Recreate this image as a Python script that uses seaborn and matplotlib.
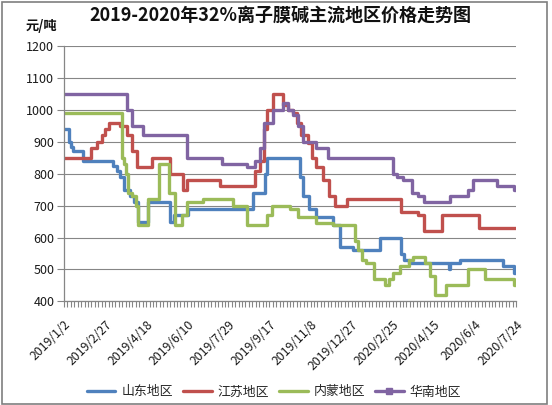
import numpy as np
import pandas as pd
import seaborn as sns
import matplotlib
matplotlib.use("Agg")
import matplotlib.pyplot as plt
import matplotlib.transforms as mtransforms
from matplotlib.lines import Line2D
from matplotlib.patches import Rectangle
from matplotlib.ticker import MultipleLocator

# ---------------- data ----------------
title = "2019-2020年32%离子膜碱主流地区价格走势图"
unit = "元/吨"
date_labels = ["2019/1/2", "2019/2/27", "2019/4/18", "2019/6/10", "2019/7/29",
               "2019/9/17", "2019/11/8", "2019/12/27", "2020/2/25", "2020/4/15",
               "2020/6/4", "2020/7/24"]
label_step = 36          # categories between labelled dates
n_last = 396             # index of the last category
regions = ["山东地区", "江苏地区", "内蒙地区", "华南地区"]
colors = ["#4F81BD", "#C0504D", "#9BBB59", "#8064A2"]

# change points (category index, price) for each region
sd_idx = [0, 4, 6, 8, 17, 43, 46, 49, 53, 58, 61, 65, 74, 93, 96, 109, 166, 176, 178,
          207, 209, 215, 221, 236, 242, 253, 277, 295, 298, 302, 337, 338, 347, 385, 394, 396]
sd_val = [940, 900, 885, 870, 840, 825, 810, 790, 750, 730, 710, 650, 710, 650, 670, 690, 740, 800, 850,
          790, 730, 690, 665, 640, 570, 560, 600, 550, 530, 520, 500, 520, 530, 510, 490, 490]

js_idx = [0, 24, 29, 33, 36, 39, 49, 55, 60, 64, 77, 93, 104, 108, 137, 167, 172, 175, 178, 183,
          192, 196, 201, 204, 208, 214, 217, 221, 227, 232, 237, 248, 295, 310, 315, 331, 364, 396]
js_val = [850, 880, 900, 920, 940, 960, 950, 920, 870, 820, 850, 800, 750, 780, 760, 810, 840, 940, 1000, 1050,
          1015, 1000, 990, 960, 920, 895, 850, 820, 780, 730, 700, 720, 680, 670, 620, 670, 630, 630]

nm_idx = [0, 51, 53, 54, 56, 60, 63, 65, 74, 83, 92, 97, 103, 108, 122, 148, 160, 178, 182, 198,
          205, 221, 236, 255, 258, 261, 265, 272, 281, 285, 288, 294, 302, 306, 316, 321, 325, 335,
          354, 369, 394, 396]
nm_val = [990, 850, 830, 800, 740, 730, 700, 640, 720, 830, 740, 640, 670, 710, 720, 700, 640, 670, 700, 690,
          665, 645, 640, 590, 560, 530, 520, 470, 450, 470, 490, 510, 530, 540, 520, 480, 420, 450,
          500, 470, 450, 450]

hn_idx = [0, 55, 60, 69, 108, 138, 160, 167, 172, 175, 183, 192, 196, 201, 205, 209, 221, 231,
          288, 292, 297, 305, 310, 315, 338, 354, 358, 379, 394, 396]
hn_val = [1050, 1000, 950, 920, 850, 830, 820, 840, 880, 960, 1000, 1020, 1000, 985, 950, 900, 880, 850,
          800, 790, 780, 740, 730, 710, 730, 750, 780, 760, 750, 750]

frames = []
for name, xi, yv in zip(regions, [sd_idx, js_idx, nm_idx, hn_idx], [sd_val, js_val, nm_val, hn_val]):
    frames.append(pd.DataFrame({"idx": xi, "price": yv, "region": name}))
df = pd.concat(frames, ignore_index=True)

# ---------------- style ----------------
sns.set_theme(style="white")
plt.rcParams["font.family"] = ["Noto Sans CJK SC", "DejaVu Sans"]
plt.rcParams["axes.unicode_minus"] = False

W, H = 552, 405
fig = plt.figure(figsize=(W / 100, H / 100), dpi=100)
ax_l, ax_r, ax_t, ax_b = 64, 516, 46, 301.4
ax = fig.add_axes([ax_l / W, 1 - ax_b / H, (ax_r - ax_l) / W, (ax_b - ax_t) / H])

grid_c = "#868686"
sns.lineplot(data=df, x="idx", y="price", hue="region", hue_order=regions,
             palette=colors, linewidth=2.4, drawstyle="steps-post",
             legend=False, ax=ax, estimator=None, sort=False)
for ln in ax.get_lines():
    ln.set_solid_joinstyle("round")
    ln.set_solid_capstyle("round")

ax.set_xlim(0, n_last)
ax.set_ylim(400, 1200)
ax.set_yticks(np.arange(400, 1201, 100))
ax.set_yticklabels([str(v) for v in range(400, 1201, 100)], fontsize=9, color="#1a1a1a")
ax.set_xticks(np.arange(0, n_last + 1, label_step))
ax.set_xticklabels(date_labels, rotation=45, ha="right", rotation_mode="anchor",
                   fontsize=8.8, color="#1a1a1a")
offset = mtransforms.ScaledTranslation(5 / 100, -2 / 100, fig.dpi_scale_trans)
for lab in ax.get_xticklabels():
    lab.set_transform(lab.get_transform() + offset)
ax.xaxis.set_minor_locator(MultipleLocator(3))
ax.tick_params(axis="x", which="both", direction="out", length=4, width=0.8,
               color=grid_c, bottom=True, pad=8)
ax.tick_params(axis="y", which="major", direction="out", length=5, width=0.8,
               color=grid_c, left=True, pad=2)
ax.set_xlabel("")
ax.set_ylabel("")
ax.grid(axis="y", color=grid_c, linewidth=0.8)
ax.grid(axis="x", visible=False)
ax.set_axisbelow(True)
for s in ["top", "right"]:
    ax.spines[s].set_visible(False)
for s in ["left", "bottom"]:
    ax.spines[s].set_color(grid_c)
    ax.spines[s].set_linewidth(0.9)

fig.text(280 / W, 1 - 15 / H, title, ha="center", va="center",
         fontsize=13, fontweight="bold", color="#111111")
fig.text(41 / W, 1 - 26 / H, unit, ha="center", va="center",
         fontsize=9.5, fontweight="bold", color="#111111")

handles = []
for name, c in zip(regions, colors):
    mk = "s" if name == "华南地区" else None
    handles.append(Line2D([], [], color=c, linewidth=2.4, marker=mk, markersize=5))
fig.legend(handles, regions, loc="center", bbox_to_anchor=(274 / W, 1 - 392 / H),
           ncol=4, frameon=False, fontsize=9.3, handlelength=2.2,
           handletextpad=0.45, columnspacing=0.8)

fig.patches.append(Rectangle((1.5 / W, 1.5 / H), (547 - 1.5) / W, (403 - 1.5) / H,
                             transform=fig.transFigure, fill=False,
                             edgecolor="#7f7f7f", linewidth=1.2))

fig.savefig("out.png", dpi=100)
